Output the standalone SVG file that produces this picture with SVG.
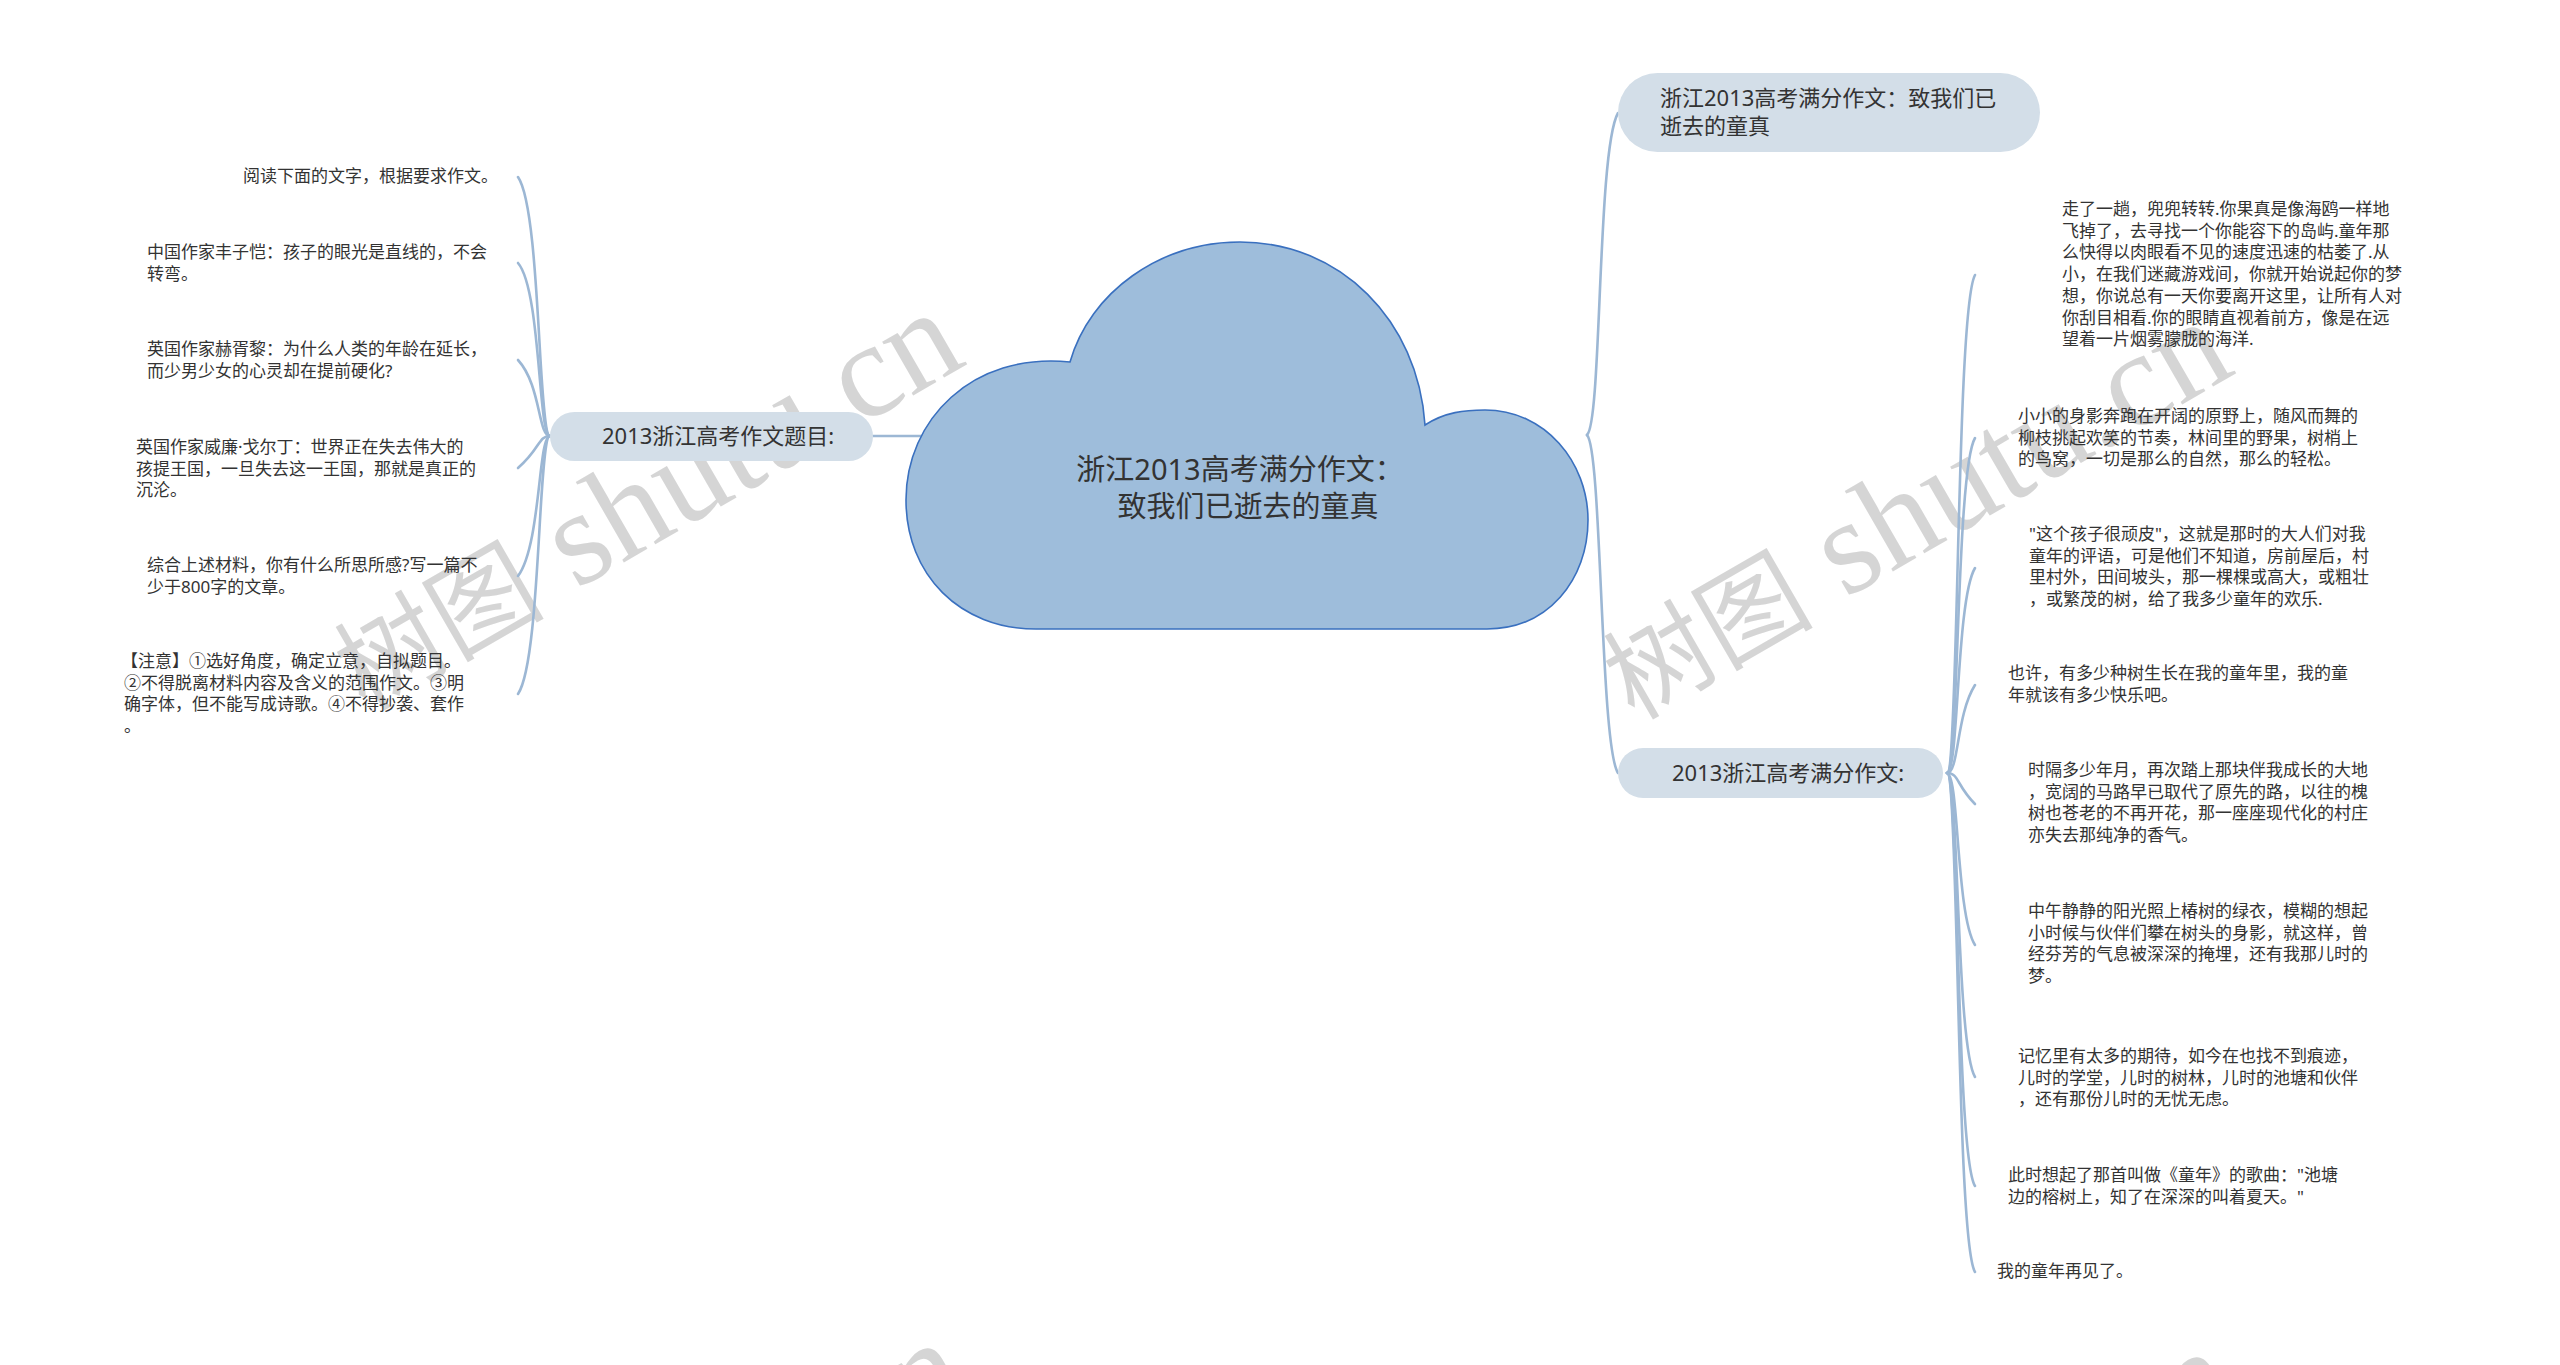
<svg xmlns="http://www.w3.org/2000/svg" width="2560" height="1365" viewBox="0 0 2560 1365">
<style>
.t{font-family:"Noto Sans","Noto Sans CJK SC",sans-serif;fill:#333333}
.leaf{font-size:17px}
.br{font-size:22px}
.root{font-size:29px}
.pill{fill:#d3dee8}
.cn{fill:none;stroke:#9cb7d4;stroke-width:2.6;stroke-linecap:round}
.wm{font-family:"Liberation Serif","Noto Sans CJK SC",serif;fill:#c8c8c8;opacity:0.75}
</style>
<rect width="2560" height="1365" fill="#ffffff"/>
<g id="watermark">
<text class="wm" transform="translate(365,712) rotate(-30)"><tspan font-size="105">树图</tspan><tspan font-size="135"> shutu.cn</tspan></text>
<text class="wm" transform="translate(1634,721) rotate(-30)"><tspan font-size="105">树图</tspan><tspan font-size="135"> shutu.cn</tspan></text>
<text class="wm" transform="translate(369,1742) rotate(-30)"><tspan font-size="105">树图</tspan><tspan font-size="135"> shutu.cn</tspan></text>
<text class="wm" transform="translate(1638,1751) rotate(-30)"><tspan font-size="105">树图</tspan><tspan font-size="135"> shutu.cn</tspan></text>
</g>
<g id="connectors">
<path class="cn" d="M873 436 L925 436"/>
<path class="cn" d="M1587 435 C1602 422 1597 150 1618 113"/>
<path class="cn" d="M1587 435 C1602 450 1600 745 1618 773"/>
<path class="cn" d="M550 436 C538 436 541 210 518 177"/>
<path class="cn" d="M550 436 C538 436 541 290 518 263"/>
<path class="cn" d="M550 436 C538 436 541 385 518 360"/>
<path class="cn" d="M550 436 C538 436 541 448 518 468"/>
<path class="cn" d="M550 436 C538 436 541 545 518 576"/>
<path class="cn" d="M550 436 C538 436 541 660 518 694"/>
<path class="cn" d="M1947 773 C1959 773 1956 310 1975 275"/>
<path class="cn" d="M1947 773 C1959 773 1956 470 1975 438"/>
<path class="cn" d="M1947 773 C1959 773 1956 600 1975 568"/>
<path class="cn" d="M1947 773 C1959 773 1956 715 1975 685"/>
<path class="cn" d="M1947 773 C1959 773 1956 785 1975 804"/>
<path class="cn" d="M1947 773 C1959 773 1956 915 1975 945"/>
<path class="cn" d="M1947 773 C1959 773 1956 1045 1975 1077"/>
<path class="cn" d="M1947 773 C1959 773 1956 1155 1975 1186"/>
<path class="cn" d="M1947 773 C1959 773 1956 1240 1975 1272"/>
</g>
<g id="root">
<path d="M1036 629 C960 629 906 575 906 500 C906 420 972 352 1070 362 C1090 292 1160 242 1240 242 C1340 242 1418 320 1425 425 C1445 412 1465 410 1485 410 C1545 410 1588 462 1588 520 C1588 580 1548 629 1487 629 Z" fill="#9ebddb" stroke="#3a70bf" stroke-width="1.6"/>
<text class="t root" text-anchor="middle" x="1240" y="480">浙江2013高考满分作文：</text>
<text class="t root" text-anchor="middle" x="1248" y="517">致我们已逝去的童真</text>
</g>
<g id="branch-left">
<rect class="pill" x="550" y="412" width="323" height="49" rx="24.5"/>
<text class="t br" x="602" y="444">2013浙江高考作文题目:</text>
</g>
<g id="branch-r1">
<rect class="pill" x="1618" y="73" width="422" height="79" rx="39.5"/>
<text class="t br" x="1660" y="106">浙江2013高考满分作文：致我们已</text>
<text class="t br" x="1660" y="134">逝去的童真</text>
</g>
<g id="branch-r2">
<rect class="pill" x="1618" y="748" width="325" height="50" rx="25"/>
<text class="t br" x="1672" y="781">2013浙江高考满分作文:</text>
</g>
<g id="leaf-l1"><text class="t leaf" x="243" y="182">阅读下面的文字，根据要求作文。</text></g>
<g id="leaf-l2"><text class="t leaf" x="147" y="258">中国作家丰子恺：孩子的眼光是直线的，不会<tspan x="147" dy="21.7">转弯。</tspan></text></g>
<g id="leaf-l3"><text class="t leaf" x="147" y="355">英国作家赫胥黎：为什么人类的年龄在延长，<tspan x="147" dy="21.7">而少男少女的心灵却在提前硬化?</tspan></text></g>
<g id="leaf-l4"><text class="t leaf" x="136" y="453">英国作家威廉·戈尔丁：世界正在失去伟大的<tspan x="136" dy="21.7">孩提王国，一旦失去这一王国，那就是真正的</tspan><tspan x="136" dy="21.7">沉沦。</tspan></text></g>
<g id="leaf-l5"><text class="t leaf" x="147" y="571">综合上述材料，你有什么所思所感?写一篇不<tspan x="147" dy="21.7">少于800字的文章。</tspan></text></g>
<g id="leaf-l6"><text class="t leaf" x="121" y="667">【注意】①选好角度，确定立意，自拟题目。<tspan x="124" dy="21.7">②不得脱离材料内容及含义的范围作文。③明</tspan><tspan x="124" dy="21.7">确字体，但不能写成诗歌。④不得抄袭、套作</tspan><tspan x="124" dy="21.7">。</tspan></text></g>
<g id="leaf-r1"><text class="t leaf" x="2062" y="215">走了一趟，兜兜转转.你果真是像海鸥一样地<tspan x="2062" dy="21.7">飞掉了，去寻找一个你能容下的岛屿.童年那</tspan><tspan x="2062" dy="21.7">么快得以肉眼看不见的速度迅速的枯萎了.从</tspan><tspan x="2062" dy="21.7">小，在我们迷藏游戏间，你就开始说起你的梦</tspan><tspan x="2062" dy="21.7">想，你说总有一天你要离开这里，让所有人对</tspan><tspan x="2062" dy="21.7">你刮目相看.你的眼睛直视着前方，像是在远</tspan><tspan x="2062" dy="21.7">望着一片烟雾朦胧的海洋.</tspan></text></g>
<g id="leaf-r2"><text class="t leaf" x="2018" y="422">小小的身影奔跑在开阔的原野上，随风而舞的<tspan x="2018" dy="21.7">柳枝挑起欢笑的节奏，林间里的野果，树梢上</tspan><tspan x="2018" dy="21.7">的鸟窝，一切是那么的自然，那么的轻松。</tspan></text></g>
<g id="leaf-r3"><text class="t leaf" x="2029" y="540">"这个孩子很顽皮"，这就是那时的大人们对我<tspan x="2029" dy="21.7">童年的评语，可是他们不知道，房前屋后，村</tspan><tspan x="2029" dy="21.7">里村外，田间坡头，那一棵棵或高大，或粗壮</tspan><tspan x="2029" dy="21.7">，或繁茂的树，给了我多少童年的欢乐.</tspan></text></g>
<g id="leaf-r4"><text class="t leaf" x="2008" y="679">也许，有多少种树生长在我的童年里，我的童<tspan x="2008" dy="21.7">年就该有多少快乐吧。</tspan></text></g>
<g id="leaf-r5"><text class="t leaf" x="2028" y="776">时隔多少年月，再次踏上那块伴我成长的大地<tspan x="2028" dy="21.7">，宽阔的马路早已取代了原先的路，以往的槐</tspan><tspan x="2028" dy="21.7">树也苍老的不再开花，那一座座现代化的村庄</tspan><tspan x="2028" dy="21.7">亦失去那纯净的香气。</tspan></text></g>
<g id="leaf-r6"><text class="t leaf" x="2028" y="917">中午静静的阳光照上椿树的绿衣，模糊的想起<tspan x="2028" dy="21.7">小时候与伙伴们攀在树头的身影，就这样，曾</tspan><tspan x="2028" dy="21.7">经芬芳的气息被深深的掩埋，还有我那儿时的</tspan><tspan x="2028" dy="21.7">梦。</tspan></text></g>
<g id="leaf-r7"><text class="t leaf" x="2018" y="1062">记忆里有太多的期待，如今在也找不到痕迹，<tspan x="2018" dy="21.7">儿时的学堂，儿时的树林，儿时的池塘和伙伴</tspan><tspan x="2018" dy="21.7">，还有那份儿时的无忧无虑。</tspan></text></g>
<g id="leaf-r8"><text class="t leaf" x="2008" y="1181">此时想起了那首叫做《童年》的歌曲："池塘<tspan x="2008" dy="21.7">边的榕树上，知了在深深的叫着夏天。"</tspan></text></g>
<g id="leaf-r9"><text class="t leaf" x="1997" y="1277">我的童年再见了。</text></g>
</svg>
